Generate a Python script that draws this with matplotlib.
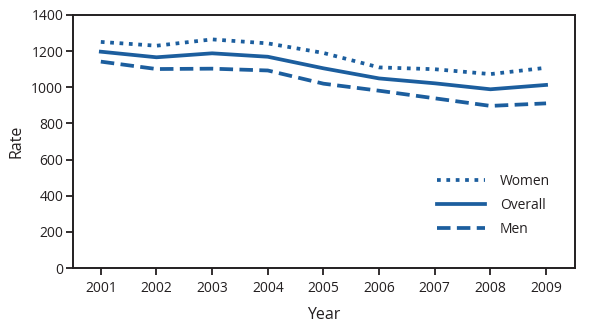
import matplotlib
matplotlib.use("Agg")
import matplotlib.pyplot as plt

years = [2001, 2002, 2003, 2004, 2005, 2006, 2007, 2008, 2009]
women = [1251, 1230, 1265, 1243, 1190, 1110, 1100, 1073, 1108]
overall = [1197, 1166, 1188, 1169, 1105, 1049, 1022, 989, 1013]
men = [1142, 1101, 1103, 1093, 1020, 981, 939, 897, 911]
yticks = [0, 200, 400, 600, 800, 1000, 1200, 1400]

plt.rcParams['font.family'] = ['Open Sans', 'DejaVu Sans']
color = '#1c5e9e'
dark = '#231f20'

fig = plt.figure(figsize=(5.93, 3.27), dpi=100)
ax = fig.add_axes([73/593, 1 - 268/327, (575-73)/593, (268-15)/327])

lw = 2.7
ax.plot(years, women, color=color, lw=lw, linestyle=(0, (1.0, 1.5)), dash_capstyle='butt', label='Women')
ax.plot(years, overall, color=color, lw=lw, linestyle='-', label='Overall')
ax.plot(years, men, color=color, lw=lw, linestyle=(0, (3.6, 1.7)), dash_capstyle='butt', label='Men')

ax.set_xlim(2000.5, 2009.52)
ax.set_ylim(0, 1400)
ax.set_xticks(years)
ax.set_yticks(yticks)
ax.tick_params(axis='both', direction='out', length=5, width=1.3, color=dark, labelsize=10, labelcolor=dark)
ax.tick_params(axis='x', pad=4)
ax.tick_params(axis='y', pad=2)
for s in ax.spines.values():
    s.set_color(dark)
    s.set_linewidth(1.4)

ax.set_xlabel('Year', fontsize=11.5, color=dark, labelpad=8)
ax.set_ylabel('Rate', fontsize=11.5, color=dark, labelpad=5)

leg = ax.legend(loc='lower right', bbox_to_anchor=(0.975, 0.075), frameon=False, fontsize=10,
                handlelength=3.4, handletextpad=1.1, labelspacing=0.62, markerfirst=True)
for t in leg.get_texts():
    t.set_color(dark)

fig.savefig('out.png', dpi=100)
